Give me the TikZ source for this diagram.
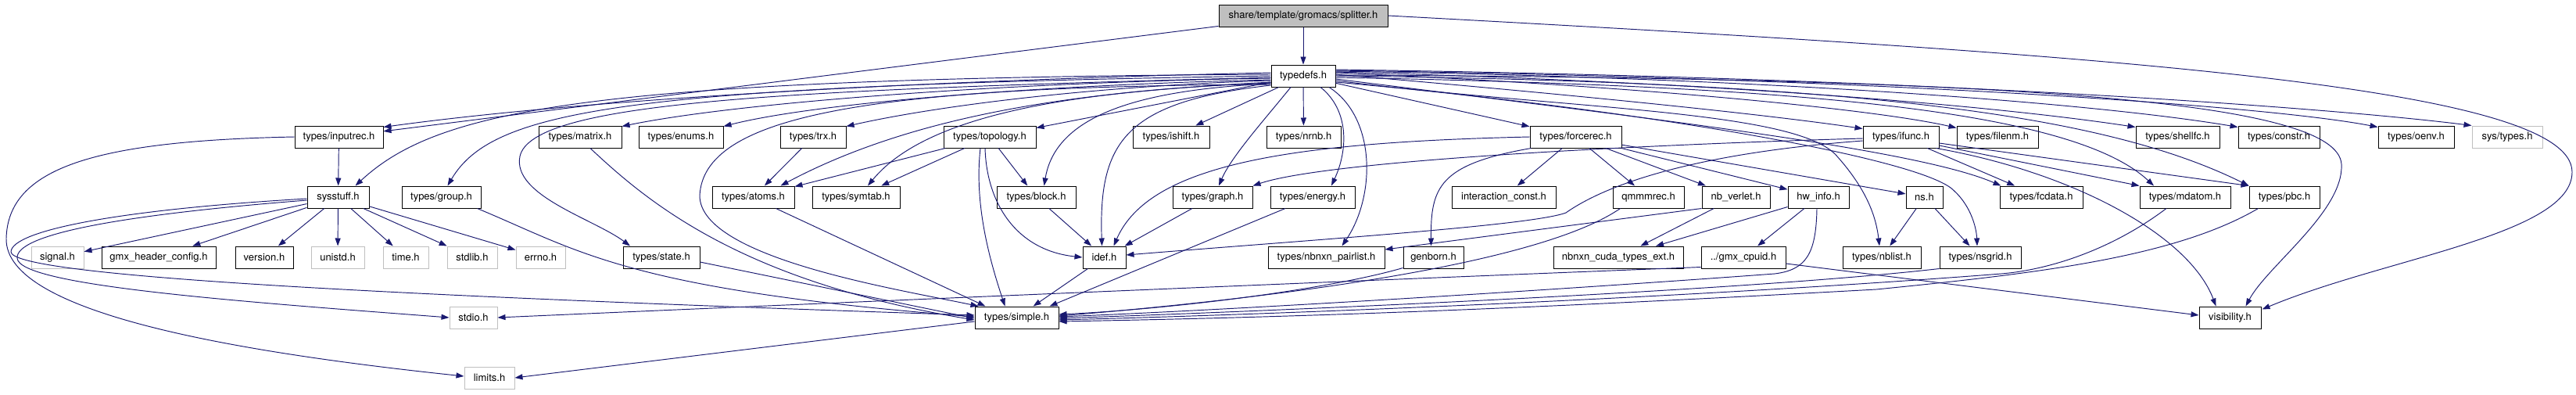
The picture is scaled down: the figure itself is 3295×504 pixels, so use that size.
\documentclass[tikz,border=0pt]{standalone}
\usepackage{fontspec}
\setmainfont{TeX Gyre Heros}
\usetikzlibrary{arrows.meta,calc}
\definecolor{eblue}{RGB}{25,25,112}
\definecolor{gborder}{RGB}{191,191,191}
\begin{document}
\begin{tikzpicture}[x=1pt,y=-1pt,
 box/.style={draw=black,line width=1pt,fill=white,minimum height=28pt,inner sep=0pt,font=\fontsize{13}{15}\selectfont},
 gbox/.style={box,draw=gborder},
 e/.style={draw=eblue,line width=0.95pt,-{Triangle[length=10pt,width=7pt]}}]
\useasboundingbox[fill=white] (0,0) rectangle (3295,504);
% row 1-2
\node[box,fill=gray!50,minimum width=216] (splitter) at (1667,20) {share/template/gromacs/splitter.h};
\node[box,minimum width=82] (typedefs) at (1667,97) {typedefs.h};
% row 3
\node[box,minimum width=113] (inputrec) at (433.5,175) {types/inputrec.h};
\node[box,minimum width=106] (matrix) at (742,175) {types/matrix.h};
\node[box,minimum width=108] (enums) at (871,175) {types/enums.h};
\node[box,minimum width=84] (trx) at (1040,175) {types/trx.h};
\node[box,minimum width=118] (topology) at (1266,175) {types/topology.h};
\node[box,minimum width=98] (ishift) at (1498,175) {types/ishift.h};
\node[box,minimum width=95] (nrnb) at (1667.5,175) {types/nrnb.h};
\node[box,minimum width=117] (forcerec) at (2015.5,175) {types/forcerec.h};
\node[box,minimum width=97] (ifunc) at (2431.5,175) {types/ifunc.h};
\node[box,minimum width=104] (filenm) at (2555,175) {types/filenm.h};
\node[box,minimum width=107] (shellfc) at (2785.5,175) {types/shellfc.h};
\node[box,minimum width=104] (constr) at (2915,175) {types/constr.h};
\node[box,minimum width=97] (oenv) at (3090.5,175) {types/oenv.h};
\node[gbox,minimum width=90] (systypes) at (3207,175) {sys/types.h};
% row 4
\node[box,minimum width=79] (sysstuff) at (432.5,252) {sysstuff.h};
\node[box,minimum width=101] (group) at (564.5,252) {types/group.h};
\node[box,minimum width=105] (atoms) at (963.5,252) {types/atoms.h};
\node[box,minimum width=112] (symtab) at (1095,252) {types/symtab.h};
\node[box,minimum width=101] (block) at (1325.5,252) {types/block.h};
\node[box,minimum width=102] (graph) at (1551,252) {types/graph.h};
\node[box,minimum width=108] (energy) at (1679,252) {types/energy.h};
\node[box,minimum width=133] (interaction) at (1923.5,252) {interaction\_const.h};
\node[box,minimum width=91] (qmmmrec) at (2108.5,252) {qmmmrec.h};
\node[box,minimum width=87] (nbverlet) at (2220.5,252) {nb\_verlet.h};
\node[box,minimum width=78] (hwinfo) at (2326,252) {hw\_info.h};
\node[box,minimum width=47] (ns) at (2461.5,252) {ns.h};
\node[box,minimum width=106] (fcdata) at (2611,252) {types/fcdata.h};
\node[box,minimum width=116] (mdatom) at (2795,252) {types/mdatom.h};
\node[box,minimum width=90] (pbc) at (2922,252) {types/pbc.h};
% row 5
\node[gbox,minimum width=67] (signal) at (73.5,329) {signal.h};
\node[box,minimum width=146] (gmxhc) at (203,329) {gmx\_header\_config.h};
\node[box,minimum width=74] (version) at (338,329) {version.h};
\node[gbox,minimum width=68] (unistd) at (432,329) {unistd.h};
\node[gbox,minimum width=58] (time) at (519,329) {time.h};
\node[gbox,minimum width=64] (stdlib) at (604,329) {stdlib.h};
\node[gbox,minimum width=63] (errno) at (691.5,329) {errno.h};
\node[box,minimum width=98] (state) at (846,329) {types/state.h};
\node[box,minimum width=55] (idef) at (1412.5,329) {idef.h};
\node[box,minimum width=149] (pairlist) at (1696.5,329) {types/nbnxn\_pairlist.h};
\node[box,minimum width=77] (genborn) at (1833.5,329) {genborn.h};
\node[box,minimum width=166] (cuda) at (2070,329) {nbnxn\_cuda\_types\_ext.h};
\node[box,minimum width=108] (cpuid) at (2230,329) {../gmx\_cpuid.h};
\node[box,minimum width=100] (nblist) at (2407,329) {types/nblist.h};
\node[box,minimum width=104] (nsgrid) at (2533,329) {types/nsgrid.h};
% row 6-7
\node[gbox,minimum width=61] (stdio) at (605.5,406) {stdio.h};
\node[box,minimum width=107] (simple) at (1300.5,406) {types/simple.h};
\node[box,minimum width=79] (visibility) at (2852.5,406) {visibility.h};
\node[gbox,minimum width=64] (limits) at (626,483) {limits.h};

% splitter
\draw[e] (splitter) -- (typedefs);
\draw[e] (splitter) -- (inputrec);
\draw[e] (splitter.east) .. controls (2700,70) and (3290,110) .. (3290,220) .. controls (3290,300) and (3050,330) .. ($(visibility.north east)+(1,4)$);

% typedefs, left bundle
\draw[e] ($(typedefs.west)+(0,-4)$) .. controls (1300,100) and (800,120) .. ($(inputrec.north east)+(0,2)$);
\draw[e] ($(typedefs.west)+(0,-2)$) .. controls (750,100) and (560,140) .. ($(sysstuff.north)+(22,0)$);
\draw[e] ($(typedefs.west)+(0,0)$) .. controls (800,110) and (630,140) .. ($(group.north)+(8,0)$);
\draw[e] ($(typedefs.west)+(0,2)$) .. controls (1000,115) and (680,130) .. (665,200) .. controls (655,250) and (760,280) .. ($(state.north)+(-40,0)$);
\draw[e] ($(typedefs.west)+(0,3)$) .. controls (1300,105) and (950,130) .. ($(matrix.north east)+(0,1)$);
\draw[e] ($(typedefs.west)+(0,5)$) .. controls (1350,108) and (1050,130) .. ($(enums.north east)+(0,1)$);
\draw[e] ($(typedefs.west)+(0,6)$) .. controls (1400,110) and (1200,135) .. ($(trx.north east)+(0,1)$);
\draw[e] ($(typedefs.west)+(0,8)$) .. controls (1450,115) and (1200,130) .. ($(atoms.north)+(35,0)$);
\draw[e] ($(typedefs.west)+(0,9)$) .. controls (1400,115) and (1190,140) .. ($(symtab.north)+(15,0)$);
\draw[e] ($(typedefs.west)+(0,10)$) .. controls (1450,115) and (1350,150) .. ($(block.north)+(10,0)$);
\draw[e] ($(typedefs.west)+(0,11)$) .. controls (1100,110) and (900,150) .. (895,250) .. controls (895,330) and (1150,370) .. ($(simple.north west)+(5,0)$);
\draw[e] ($(typedefs.west)+(0,12)$) .. controls (1440,130) and (1405,180) .. ($(idef.north)+(-3,0)$);
\draw[e] (typedefs) -- (topology);
\draw[e] (typedefs) -- (ishift);
\draw[e] (typedefs) -- (nrnb);
\draw[e] ($(typedefs.south)+(-16,0)$) .. controls (1620,150) and (1575,200) .. ($(graph.north)+(8,0)$);
\draw[e] ($(typedefs.south)+(22,0)$) .. controls (1725,140) and (1725,190) .. ($(energy.north)+(24,0)$);
\draw[e] ($(typedefs.south)+(33,0)$) .. controls (1760,150) and (1760,250) .. ($(pairlist.north)+(20,0)$);
\draw[e] (typedefs) -- (forcerec);

% typedefs, right bundle
\draw[e] ($(typedefs.east)+(0,-8)$) .. controls (2500,100) and (3000,140) .. (systypes.north west);
\draw[e] ($(typedefs.east)+(0,-7)$) .. controls (2400,100) and (2900,135) .. ($(oenv.north west)+(0,2)$);
\draw[e] ($(typedefs.east)+(0,-6)$) .. controls (2300,100) and (2700,135) .. ($(constr.north west)+(0,2)$);
\draw[e] ($(typedefs.east)+(0,-5)$) .. controls (2200,105) and (2550,135) .. ($(shellfc.north west)+(0,2)$);
\draw[e] ($(typedefs.east)+(0,-4)$) .. controls (2100,110) and (2400,140) .. ($(filenm.north west)+(0,3)$);
\draw[e] ($(typedefs.east)+(0,-2)$) .. controls (2000,120) and (2250,145) .. ($(ifunc.north west)+(0,4)$);
\draw[e] ($(typedefs.east)+(0,-1)$) .. controls (2600,100) and (2990,130) .. (2995,210) .. controls (2998,270) and (2900,340) .. ($(visibility.north)+(20,0)$);
\draw[e] ($(typedefs.east)+(0,0)$) .. controls (2400,105) and (2700,150) .. (pbc.north west);
\draw[e] ($(typedefs.east)+(0,2)$) .. controls (2300,110) and (2650,140) .. ($(mdatom.north)+(-40,0)$);
\draw[e] ($(typedefs.east)+(0,4)$) .. controls (2100,150) and (2450,190) .. ($(fcdata.north west)+(2,0)$);
\draw[e] ($(typedefs.east)+(0,6)$) .. controls (2000,140) and (2300,140) .. (2350,200) .. controls (2390,245) and (2400,280) .. ($(nblist.north)+(-3,0)$);
\draw[e] ($(typedefs.east)+(0,8)$) .. controls (2100,140) and (2440,200) .. (2495,240) .. controls (2520,260) and (2528,290) .. ($(nsgrid.north)+(-4,0)$);

% forcerec
\draw[e] (forcerec.west) .. controls (1650,182) and (1470,210) .. ($(idef.north)+(12,0)$);
\draw[e] ($(forcerec.south west)+(2,0)$) .. controls (1840,210) and (1830,240) .. ($(genborn.north)+(-3,0)$);
\draw[e] (forcerec) -- (interaction);
\draw[e] (forcerec) -- (qmmmrec);
\draw[e] (forcerec) -- (nbverlet);
\draw[e] (forcerec) -- (hwinfo);
\draw[e] (forcerec) -- (ns);

% ifunc
\draw[e] ($(ifunc.west)+(0,2)$) .. controls (2100,185) and (1700,205) .. (graph.north east);
\draw[e] ($(ifunc.west)+(0,5)$) .. controls (2180,195) and (2060,232) .. (2003,272) .. controls (1960,288) and (1700,305) .. ($(idef.east)+(0,-3)$);
\draw[e] (ifunc) -- (fcdata);
\draw[e] ($(ifunc.east)+(0,11)$) -- (mdatom.north west);
\draw[e] ($(ifunc.east)+(0,8)$) -- (pbc.north west);
\draw[e] ($(ifunc.south east)+(-4,0)$) .. controls (2650,220) and (2800,300) .. ($(visibility.north)+(-18,0)$);

% inputrec, sysstuff
\draw[e] (inputrec) -- (sysstuff);
\draw[e] (inputrec.west) .. controls (120,180) and (10,215) .. (8,305) .. controls (6,400) and (300,450) .. ($(limits.west)+(0,-2)$);
\draw[e] ($(sysstuff.west)+(0,4)$) .. controls (150,275) and (20,300) .. (22,330) .. controls (24,365) and (300,385) .. (stdio.west);
\draw[e] ($(sysstuff.west)+(0,2)$) .. controls (150,268) and (15,295) .. (14,322) .. controls (16,350) and (400,375) .. ($(simple.west)+(0,-3)$);
\draw[e] (sysstuff) -- (signal);
\draw[e] (sysstuff) -- (gmxhc);
\draw[e] (sysstuff) -- (version);
\draw[e] (sysstuff) -- (unistd);
\draw[e] (sysstuff) -- (time);
\draw[e] (sysstuff) -- (stdlib);
\draw[e] (sysstuff) -- (errno);

% others
\draw[e] ($(group.south east)+(-5,0)$) .. controls (740,320) and (800,370) .. ($(simple.west)+(0,-1)$);
\draw[e] ($(state.east)+(0,6)$) -- ($(simple.west)+(0,1)$);
\draw[e] ($(matrix.south)+(13,0)$) .. controls (830,260) and (950,360) .. ($(simple.west)+(0,3)$);
\draw[e] ($(atoms.south)+(29,0)$) -- ($(simple.north)+(-40,0)$);
\draw[e] (topology) -- (atoms);
\draw[e] (topology) -- (symtab);
\draw[e] (topology) -- (block);
\draw[e] ($(topology.south)+(-6,0)$) .. controls (1262,260) and (1300,320) .. (idef.west);
\draw[e] ($(topology.south)+(-12,0)$) .. controls (1246,260) and (1265,330) .. ($(simple.north)+(-15,0)$);
\draw[e] (trx) -- (atoms);
\draw[e] (block) -- (idef);
\draw[e] (graph) -- (idef);
\draw[e] ($(energy.south)+(-35,0)$) -- ($(simple.north)+(42,0)$);
\draw[e] (idef) -- (simple);
\draw[e] ($(genborn.south west)+(0,-1)$) .. controls (1700,370) and (1500,395) .. ($(simple.east)+(0,-4)$);
\draw[e] ($(qmmmrec.south west)+(10,0)$) .. controls (1980,330) and (1700,375) .. ($(simple.east)+(0,-2)$);
\draw[e] (nbverlet.south west) -- ($(pairlist.east)+(0,-10)$);
\draw[e] (nbverlet) -- (cuda);
\draw[e] ($(hwinfo.south west)+(0,-2)$) -- ($(cuda.north)+(48,0)$);
\draw[e] (hwinfo) -- (cpuid);
\draw[e] ($(hwinfo.south)+(-2,0)$) .. controls (2323,325) and (2310,345) .. (2270,350) .. controls (2000,370) and (1600,395) .. ($(simple.east)+(0,-1)$);
\draw[e] (ns) -- (nblist);
\draw[e] (ns) -- (nsgrid);
\draw[e] (nsgrid.south west) .. controls (2250,370) and (1700,395) .. ($(simple.east)+(0,1)$);
\draw[e] ($(mdatom.south)+(-24,0)$) .. controls (2700,320) and (2620,345) .. (2560,350) .. controls (2200,378) and (1700,400) .. ($(simple.east)+(0,3)$);
\draw[e] ($(pbc.south west)+(12,0)$) .. controls (2780,330) and (2600,350) .. (2400,370) .. controls (2000,392) and (1700,405) .. ($(simple.east)+(0,5)$);
\draw[e] ($(cpuid.south west)+(0,-2)$) .. controls (1700,360) and (1000,390) .. (stdio.east);
\draw[e] ($(cpuid.east)+(0,8)$) -- ($(visibility.west)+(0,-3)$);
\draw[e] ($(simple.west)+(0,5)$) -- (limits.east);
\end{tikzpicture}
\end{document}
